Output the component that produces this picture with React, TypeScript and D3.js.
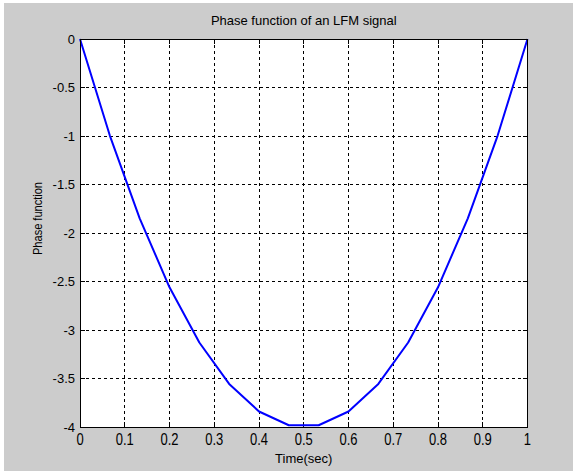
import React from "react";
import * as d3 from "d3";

const timeValues = [0, 1/15, 2/15, 3/15, 4/15, 5/15, 6/15, 7/15, 8/15, 9/15, 10/15, 11/15, 12/15, 13/15, 14/15, 1];
const phaseValues = [0, -0.9956, -1.8489, -2.56, -3.1289, -3.5556, -3.84, -3.9822, -3.9822, -3.84, -3.5556, -3.1289, -2.56, -1.8489, -0.9956, 0];
const xTicks = [0, 0.1, 0.2, 0.3, 0.4, 0.5, 0.6, 0.7, 0.8, 0.9, 1];
const xTickLabels = ["0", "0.1", "0.2", "0.3", "0.4", "0.5", "0.6", "0.7", "0.8", "0.9", "1"];
const yTicks = [0, -0.5, -1, -1.5, -2, -2.5, -3, -3.5, -4];
const yTickLabels = ["0", "-0.5", "-1", "-1.5", "-2", "-2.5", "-3", "-3.5", "-4"];

const W = 573, H = 475;
const L = 80, R = 527.5, T = 39, B = 427;

export default function App() {
  const x = d3.scaleLinear().domain([0, 1]).range([L, R]);
  const y = d3.scaleLinear().domain([-4, 0]).range([B, T]);
  const pts: [number, number][] = timeValues.map((t, i) => [t, phaseValues[i]]);
  const line = d3.line<[number, number]>().x(d => x(d[0])).y(d => y(d[1]));
  const font = "'Liberation Sans', Arial, sans-serif";
  return (
    <svg width={W} height={H} style={{ position: "absolute", left: 0, top: 0 }} fontFamily={font}>
      <rect x={0} y={0} width={W} height={H} fill="#ffffff" />
      <rect x={4} y={3} width={W - 4} height={468} fill="#cccccc" />
      <rect x={L} y={T} width={R - L} height={B - T} fill="#ffffff" />
      {/* grid */}
      <g stroke="#000" strokeWidth={1} strokeDasharray="3,3" shapeRendering="crispEdges">
        {xTicks.slice(1, -1).map((t, i) => (
          <line key={"gx" + i} x1={x(t)} x2={x(t)} y1={T} y2={B} />
        ))}
        {yTicks.slice(1, -1).map((v, i) => (
          <line key={"gy" + i} x1={L} x2={R} y1={y(v)} y2={y(v)} />
        ))}
      </g>
      {/* ticks */}
      <g stroke="#000" strokeWidth={1} shapeRendering="crispEdges">
        {xTicks.map((t, i) => (
          <g key={"tx" + i}>
            <line x1={x(t)} x2={x(t)} y1={B} y2={B - 5} />
            <line x1={x(t)} x2={x(t)} y1={T} y2={T + 5} />
          </g>
        ))}
        {yTicks.map((v, i) => (
          <g key={"ty" + i}>
            <line x1={L} x2={L + 5} y1={y(v)} y2={y(v)} />
            <line x1={R} x2={R - 5} y1={y(v)} y2={y(v)} />
          </g>
        ))}
      </g>
      <path d={line(pts) || ""} fill="none" stroke="#0000ff" strokeWidth={2} strokeLinejoin="round" />
      <rect x={L} y={T} width={R - L} height={B - T} fill="none" stroke="#000" strokeWidth={1} shapeRendering="crispEdges" />
      {/* tick labels */}
      <g fill="#000" fontSize={13}>
        {xTicks.map((t, i) => (
          <text key={"lx" + i} x={x(t)} y={445} textAnchor="middle" transform={`translate(0,445) scale(1,1.25) translate(0,-445)`}>
            {xTickLabels[i]}
          </text>
        ))}
        {yTicks.map((v, i) => (
          <text key={"ly" + i} x={75} y={y(v)} textAnchor="end" dominantBaseline="central">
            {yTickLabels[i]}
          </text>
        ))}
      </g>
      <text x={(L + R) / 2} y={25} textAnchor="middle" fontSize={13} fill="#000">Phase function of an LFM signal</text>
      <text x={(L + R) / 2} y={463} textAnchor="middle" fontSize={13} fill="#000">Time(sec)</text>
      <text transform={`translate(42,218.5) rotate(-90)`} textAnchor="middle" fontSize={13} fill="#000" textLength={73} lengthAdjust="spacingAndGlyphs">Phase function</text>
    </svg>
  );
}
